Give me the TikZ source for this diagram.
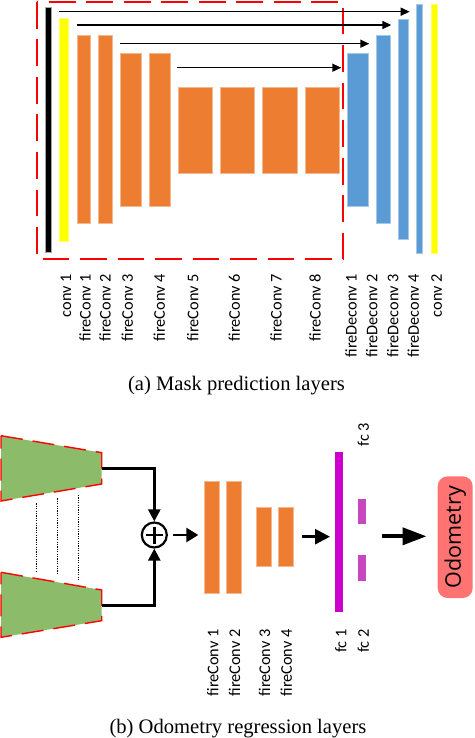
\documentclass[tikz,border=0pt]{standalone}
\usepackage{fontspec}
\setmainfont{Liberation Serif}
\newfontfamily\calfont{Carlito}
\newfontfamily\osansfont{Open Sans}
\usetikzlibrary{arrows.meta}
\definecolor{orng}{HTML}{ED7D31}
\definecolor{blu}{HTML}{5B9BD5}
\definecolor{yel}{HTML}{FFFF00}
\definecolor{grn}{RGB}{140,187,106}
\definecolor{mag}{HTML}{CC00CC}
\definecolor{magl}{HTML}{C846BE}
\definecolor{odo}{RGB}{255,115,115}
\definecolor{redd}{HTML}{FF0000}
\tikzset{
  bar/.style={inner sep=0pt, outer sep=0pt, minimum width=#1},
  obar/.style={bar=#1, fill=orng, draw=orng!55!white, line width=0.5pt},
  bbar/.style={bar=#1, fill=blu, draw=blu!55!white, line width=0.5pt},
  lbl/.style={font=\calfont\fontsize{16.3}{18}\selectfont, rotate=90, anchor=east, inner sep=0pt},
  skiparrow/.style={-{Triangle[length=9pt,width=8pt]}, line width=1.4pt, shorten >=7pt},
  flow/.style={-{Triangle[length=12pt,width=12pt]}, line width=2.6pt},
  captxt/.style={font=\fontsize{20.6}{24}\selectfont, anchor=base},
  trap/.style={fill=grn, draw=redd, line width=1.4pt, dash pattern=on 22pt off 10pt},
  dots/.style={line width=1pt, dash pattern=on 1.2pt off 1.2pt},
}
\begin{document}
\begin{tikzpicture}[x=1pt, y=-1pt]
\useasboundingbox (0,0) rectangle (474,738);

% ---------- (a) mask prediction ----------
\draw[redd, line width=1.5pt, dash pattern=on 26.7pt off 10.8pt] (37,2) rectangle (343,259);

\node[bar=6pt, minimum height=244.7pt, fill=black, draw=gray!70, line width=0.5pt] (c1) at (48.7,129.65) {};
\node[bar=9.4pt, minimum height=222.7pt, fill=yel, draw=yel!60!white, line width=0.5pt] (y1) at (64,129.65) {};
\node[obar=13.7pt, minimum height=187.3pt] (f1) at (83.85,129.35) {};
\node[obar=14pt, minimum height=187.3pt] (f2) at (105.7,129.35) {};
\node[obar=21pt, minimum height=152.3pt] (f3) at (130.8,129.85) {};
\node[obar=20.7pt, minimum height=152.3pt] (f4) at (159.65,129.85) {};
\node[obar=34.3pt, minimum height=85.6pt] (f5) at (195.15,130.5) {};
\node[obar=34.4pt, minimum height=85.6pt] (f6) at (237.5,130.5) {};
\node[obar=34.3pt, minimum height=85.6pt] (f7) at (279.85,130.5) {};
\node[obar=34pt, minimum height=85.6pt] (f8) at (322.3,130.5) {};
\node[bbar=20.7pt, minimum height=152.3pt] (d1) at (357.65,129.85) {};
\node[bbar=13.7pt, minimum height=187.3pt] (d2) at (383.15,129.35) {};
\node[bbar=10.4pt, minimum height=219.7pt] (d3) at (403.5,129.15) {};
\node[bbar=6pt, minimum height=249pt] (d4) at (419.7,128.8) {};
\node[bar=6pt, minimum height=249pt, fill=yel, draw=yel!60!white, line width=0.5pt] (c2) at (434,128.8) {};

\coordinate (s1) at (59.3,11.7);
\coordinate (s2) at (77,25);
\coordinate (s3) at (120,43.7);
\coordinate (s4) at (177,67.7);
\draw[skiparrow] (s1) -- (s1 -| d4.west);
\draw[skiparrow] (s2) -- (s2 -| d3.west);
\draw[skiparrow] (s3) -- (s3 -| d2.west);
\draw[skiparrow, shorten >=6pt] (s4) -- (s4 -| d1.west);

\node[lbl] (lc1) at (66,274) {conv 1};
\node[lbl] (lf1) at (85,274) {fireConv 1};
\node[lbl] (lf2) at (105,274) {fireConv 2};
\node[lbl] (lf3) at (127.3,274) {fireConv 3};
\node[lbl] (lf4) at (159.3,274) {fireConv 4};
\node[lbl] (lf5) at (192.7,274) {fireConv 5};
\node[lbl] (lf6) at (234.3,274) {fireConv 6};
\node[lbl] (lf7) at (276,274) {fireConv 7};
\node[lbl] (lf8) at (315,274) {fireConv 8};
\node[lbl] (ld1) at (351,274) {fireDeconv 1};
\node[lbl] (ld2) at (371.7,274) {fireDeconv 2};
\node[lbl] (ld3) at (392.7,274) {fireDeconv 3};
\node[lbl] (ld4) at (413.3,274) {fireDeconv 4};
\node[lbl] (lc2) at (436.7,274) {conv 2};

\node[captxt] (capa) at (236.5,390) {(a) Mask prediction layers};

% ---------- (b) odometry regression ----------
\draw[trap] (1,435.7) -- (101.7,452.7) -- (101.7,484) -- (1,501) -- cycle;
\draw[trap] (1,572.3) -- (101.7,590) -- (101.7,620.7) -- (1,637.3) -- cycle;
\draw[dots] (36.7,503.3) -- (36.7,571.7);
\draw[dots] (57.7,498.3) -- (57.7,575);
\draw[dots] (78.3,495) -- (78.3,580);

\coordinate (t1) at (101.7,468.4);
\coordinate (t2) at (101.7,605.3);
\node[circle, draw, line width=2.2pt, minimum size=25pt, inner sep=0pt] (plus) at (154.3,535) {};
\draw[line width=2.8pt] ([xshift=-8.5pt]plus.center) -- ([xshift=8.5pt]plus.center);
\draw[line width=2.8pt] ([yshift=-8.5pt]plus.center) -- ([yshift=8.5pt]plus.center);
\draw[flow] (t1) -| (plus.north);
\draw[flow] (t2) -| (plus.south);

\node[obar=15pt, minimum height=112.3pt] (b1) at (211.8,537.15) {};
\node[obar=14.6pt, minimum height=112.3pt] (b2) at (234,537.15) {};
\node[obar=15pt, minimum height=59pt] (b3) at (263.8,537.2) {};
\node[obar=15pt, minimum height=59pt] (b4) at (285.8,537.2) {};
\draw[flow, -{Triangle[length=12pt,width=14pt]}, shorten <=5pt, shorten >=6pt] (plus.east) -- (plus.east -| b1.west);

\node[bar=8pt, minimum height=159.4pt, fill=mag] (fa) at (339.3,532) {};
\node[bar=8pt, minimum height=25.3pt, fill=magl] (fb) at (362.3,511.35) {};
\node[bar=8pt, minimum height=25.7pt, fill=magl] (fcc) at (362.3,568.15) {};
\coordinate (fs) at (302.3,536.7);
\draw[flow, -{Triangle[length=15pt,width=15pt]}, shorten >=5.3pt] (fs) -- (fs -| fa.west);

\node[rotate=90, fill=odo, rounded corners=10pt, minimum width=121.7pt, minimum height=35pt, inner sep=0pt,
      font=\osansfont\fontsize{21.5}{24}\selectfont, text=black] (odom) at (455.2,537.15) {Odometry};
\coordinate (os) at (382.3,536.3);
\draw[line width=3.8pt, -{Triangle[length=24pt,width=17pt]}, shorten >=11pt] (os) -- (os -| odom.north);

\node[lbl] (lb1) at (212.7,629.3) {fireConv 1};
\node[lbl] (lb2) at (234.5,629.3) {fireConv 2};
\node[lbl] (lb3) at (264.5,629.3) {fireConv 3};
\node[lbl] (lb4) at (286.3,629.3) {fireConv 4};
\node[lbl] (lfa) at (340.8,629.3) {fc 1};
\node[lbl] (lfb) at (363.3,629.3) {fc 2};
\node[lbl] (lfc) at (363.3,422.7) {fc 3};

\node[captxt] (capb) at (238,733.3) {(b) Odometry regression layers};
\end{tikzpicture}
\end{document}
